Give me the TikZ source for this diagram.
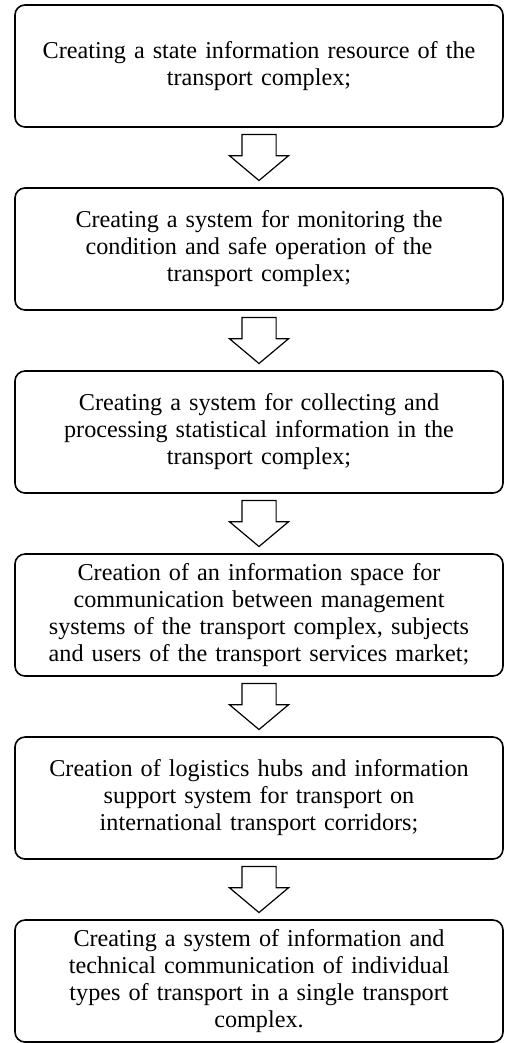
\documentclass[tikz,border=0pt]{standalone}
\usepackage{fontspec}
\setmainfont{Liberation Serif}
\usetikzlibrary{positioning,shapes.arrows}

\begin{document}
\begin{tikzpicture}[x=1pt,y=1pt,
    stage/.style ={rectangle, draw, line width=1.6pt, rounded corners=10pt, outer sep=0pt,
                   minimum width=488pt, minimum height=122pt, text width=480pt, align=center,
                   inner sep=0pt, font=\fontsize{24.2}{27}\selectfont},
    flow/.style ={single arrow, draw, line width=1.2pt, shape border rotate=270, outer sep=0pt,
                  minimum height=46pt, single arrow head extend=12.5pt,
                  single arrow tip angle=100, inner xsep=16.5pt, inner ysep=0pt}]
   \useasboundingbox (0,0) rectangle (506,-1043);

   \node[stage] (s1) at (259,-66) {Creating a state information resource of the\\ transport complex;};
   \node[flow]  (a1) [below=7.5pt of s1] {};
   \node[stage] (s2) [below=7.5pt of a1] {Creating a system for monitoring the\\ condition and safe operation of the\\ transport complex;};
   \node[flow]  (a2) [below=7.5pt of s2] {};
   \node[stage] (s3) [below=7.5pt of a2] {Creating a system for collecting and\\ processing statistical information in the\\ transport complex;};
   \node[flow]  (a3) [below=7.5pt of s3] {};
   \node[stage] (s4) [below=7.5pt of a3] {Creation of an information space for\\ communication between management\\ systems of the transport complex, subjects\\ and users of the transport services market;};
   \node[flow]  (a4) [below=7.5pt of s4] {};
   \node[stage] (s5) [below=7.5pt of a4] {Creation of logistics hubs and information\\ support system for transport on\\ international transport corridors;};
   \node[flow]  (a5) [below=7.5pt of s5] {};
   \node[stage] (s6) [below=7.5pt of a5] {Creating a system of information and\\ technical communication of individual\\ types of transport in a single transport\\ complex.};
\end{tikzpicture}
\end{document}
